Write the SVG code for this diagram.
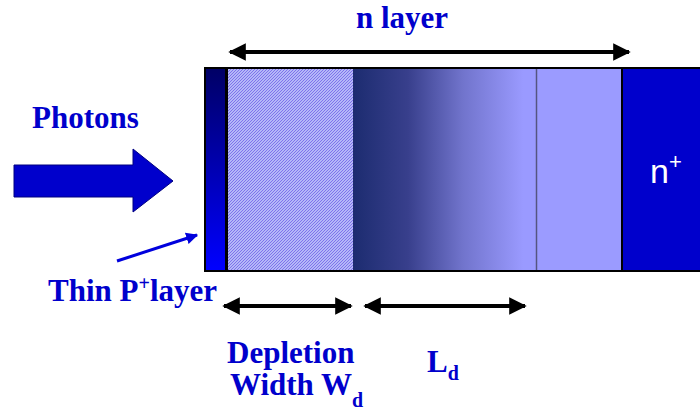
<svg xmlns="http://www.w3.org/2000/svg" width="700" height="410" viewBox="0 0 700 410">
<style>
.lbl{font-family:"Liberation Serif","Times New Roman",serif;font-weight:bold;font-size:31px;fill:#0000cc}
.sub{font-size:20px}
.dim{stroke:#000;stroke-width:4;fill:none}
</style>
<defs>
<linearGradient id="gP" x1="0" y1="0" x2="0" y2="1">
<stop offset="0" stop-color="#000066"/>
<stop offset="1" stop-color="#0000ff"/>
</linearGradient>
<linearGradient id="gD" x1="0" y1="0" x2="1" y2="0">
<stop offset="0" stop-color="#1c2c70"/>
<stop offset="0.3" stop-color="#383f8c"/>
<stop offset="0.6" stop-color="#7174cc"/>
<stop offset="0.93" stop-color="#9a9aff"/>
<stop offset="1" stop-color="#9a9aff"/>
</linearGradient>
<pattern id="hatch" width="3" height="3" patternUnits="userSpaceOnUse">
<rect width="3" height="3" fill="#b4b8f8"/>
<path d="M-1,1 L1,-1 M0,3 L3,0 M2,4 L4,2" stroke="#7060e8" stroke-width="0.8"/>
</pattern>
<marker id="ah" viewBox="0 0 10 10" refX="9" refY="5" markerWidth="4.4" markerHeight="4.4" orient="auto-start-reverse" markerUnits="strokeWidth">
<path d="M0,0 L10,5 L0,10 Z" fill="#000"/>
</marker>
<marker id="ahb" viewBox="0 0 10 10" refX="9" refY="5" markerWidth="4" markerHeight="4" orient="auto" markerUnits="strokeWidth">
<path d="M0,0 L10,5 L0,10 Z" fill="#0000dd"/>
</marker>
</defs>

<g id="device">
<rect x="204" y="67" width="510" height="205" fill="#000"/>
<rect id="pplus" x="206" y="69" width="19" height="201" fill="url(#gP)"/>
<rect id="depletion" x="228" y="69" width="125" height="201" fill="url(#hatch)"/>
<rect id="diffusion" x="353" y="69" width="183" height="201" fill="url(#gD)"/>
<rect id="nbulk" x="536" y="69" width="85" height="201" fill="#9b9bff"/>
<line x1="536.5" y1="69" x2="536.5" y2="270" stroke="#555580" stroke-width="1.5"/>
<rect id="nplus" x="623" y="69" width="80" height="201" fill="#0000cc"/>
<text x="650" y="183" font-family="Liberation Sans, Arial, sans-serif" font-size="34" fill="#fff">n<tspan font-size="22" dy="-14">+</tspan></text>
</g>

<g id="photons">
<polygon points="14,165 133,165 133,149 173,181 133,212 133,197 14,197" fill="#0000cc" stroke="#000080" stroke-width="1"/>
<text class="lbl" x="32" y="128">Photons</text>
</g>

<g id="labels">
<text class="lbl" x="356" y="28">n layer</text>
<text class="lbl" x="48" y="301">Thin P<tspan font-size="20" dy="-11">+</tspan><tspan dy="11">layer</tspan></text>
<text class="lbl" x="227" y="363">Depletion</text>
<text class="lbl" x="230" y="395">Width W<tspan class="sub" dy="12">d</tspan></text>
<text class="lbl" x="427" y="372">L<tspan class="sub" dy="8">d</tspan></text>
</g>

<g id="connectors">
<line class="dim" x1="230" y1="52" x2="629" y2="52" marker-start="url(#ah)" marker-end="url(#ah)"/>
<line class="dim" x1="224" y1="306" x2="351" y2="306" marker-start="url(#ah)" marker-end="url(#ah)"/>
<line class="dim" x1="365" y1="306" x2="525" y2="306" marker-start="url(#ah)" marker-end="url(#ah)"/>
<line x1="117" y1="261" x2="197" y2="235" stroke="#0000dd" stroke-width="3" marker-end="url(#ahb)"/>
</g>
</svg>
